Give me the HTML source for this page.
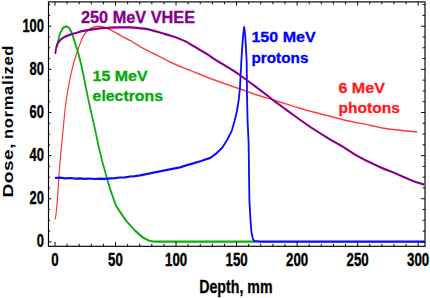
<!DOCTYPE html>
<html><head><meta charset="utf-8"><style>
html,body{margin:0;padding:0;background:#fff;}
svg{display:block;font-family:"Liberation Sans",sans-serif;font-weight:bold;}
.tl{font-size:18.8px;fill:#000;stroke:#000;stroke-width:0.4px;}
.lg{font-size:16.3px;stroke-width:0.3px;}
</style></head><body>
<svg width="430" height="298" viewBox="0 0 430 298">
<rect width="430" height="298" fill="#fff"/>
<g transform="scale(0.8 1)" fill="none" stroke-linejoin="round">
<path d="M69.00,219.30C69.27,217.78 70.02,215.07 70.62,210.20C71.23,205.33 72.12,195.80 72.62,190.10C73.12,184.40 73.12,181.65 73.62,176.00C74.12,170.35 74.88,162.85 75.62,156.20C76.38,149.55 77.31,142.80 78.12,136.10C78.94,129.40 79.83,121.30 80.50,116.00C81.17,110.70 81.48,108.27 82.12,104.30C82.77,100.33 83.46,96.57 84.38,92.20C85.29,87.83 86.50,82.47 87.62,78.10C88.75,73.73 90.00,69.52 91.12,66.00C92.25,62.48 93.40,59.57 94.38,57.00C95.35,54.43 96.00,52.93 97.00,50.60C98.00,48.27 99.08,45.55 100.37,43.00C101.67,40.45 103.06,37.50 104.75,35.30C106.44,33.10 108.52,31.13 110.50,29.80C112.48,28.47 114.58,27.88 116.62,27.30C118.67,26.72 120.69,26.35 122.75,26.30C124.81,26.25 126.94,26.60 129.00,27.00C131.06,27.40 132.79,27.88 135.12,28.70C137.46,29.52 140.21,30.67 143.00,31.90C145.79,33.13 148.62,34.68 151.88,36.10C155.12,37.52 159.69,39.18 162.50,40.40C165.31,41.62 165.81,41.98 168.75,43.40C171.69,44.82 175.29,46.82 180.12,48.90C184.96,50.98 192.33,53.72 197.75,55.90C203.17,58.08 207.04,59.92 212.62,62.00C218.21,64.08 225.21,66.40 231.25,68.40C237.29,70.40 243.87,72.40 248.87,74.00C253.87,75.60 252.73,75.50 261.25,78.00C269.77,80.50 290.60,86.35 300.00,89.00C309.40,91.65 310.88,92.13 317.62,93.90C324.38,95.67 334.62,98.13 340.50,99.60C346.37,101.07 347.12,101.25 352.88,102.70C358.62,104.15 368.56,106.75 375.00,108.30C381.44,109.85 385.81,110.78 391.50,112.00C397.19,113.22 402.50,114.23 409.12,115.60C415.75,116.97 422.35,118.60 431.25,120.20C440.15,121.80 454.35,123.85 462.50,125.20C470.65,126.55 474.25,127.48 480.12,128.30C486.00,129.12 490.85,129.48 497.75,130.10C504.65,130.72 517.54,131.68 521.50,132.00" stroke="#ff3a3a" stroke-width="1.5"/>
<polyline points="70.37,47.50 72.25,42.20 75.12,33.10 78.88,27.80 82.62,26.30 86.37,27.80 89.00,31.50 91.12,36.00 93.87,43.00 97.00,50.60 99.50,58.20 101.88,66.00 104.00,74.00 107.75,89.00 109.88,97.50 116.12,120.00 119.00,130.00 123.25,146.20 128.00,162.00 132.88,176.00 138.00,190.00 145.00,205.80 156.88,220.00 168.62,230.50 178.50,237.50 185.75,240.50 191.25,241.50 197.50,241.70 212.50,241.70 318.75,241.70" stroke="#10ac10" stroke-width="2.25"/>
<polyline points="68.75,178.00 75.00,177.70 81.25,178.40 87.50,178.00 93.75,178.70 100.00,178.30 106.25,178.90 112.50,178.50 118.75,179.00 125.00,178.60 131.25,178.80 137.50,178.30 143.75,178.10 150.00,177.50 156.25,177.30 162.50,176.50 168.75,176.10 175.00,175.30 187.50,173.40 204.38,170.60 225.00,167.30 233.75,165.20 242.62,163.10 251.37,161.00 262.88,157.90 270.75,153.20 277.88,147.60 284.00,139.90 287.38,134.50 289.62,131.00 293.12,121.10 296.12,111.30 298.37,100.00 299.88,88.80 301.62,62.00 302.75,48.20 304.00,34.10 305.19,27.20 306.38,34.10 307.50,48.20 308.37,62.00 308.75,95.00 309.50,121.10 310.75,142.00 311.75,200.00 312.88,216.80 314.25,231.90 316.00,238.60 318.12,241.20 325.00,241.70 530.62,241.70" stroke="#0a0aff" stroke-width="2.25"/>
<path d="M69.12,54.00C69.33,52.92 69.69,49.47 70.37,47.50C71.06,45.53 71.83,43.83 73.25,42.20C74.67,40.57 76.35,39.00 78.88,37.70C81.40,36.40 85.90,35.13 88.38,34.40C90.85,33.67 91.40,33.83 93.75,33.30C96.10,32.77 99.56,31.78 102.50,31.20C105.44,30.62 108.44,30.20 111.37,29.80C114.31,29.40 117.19,29.08 120.12,28.80C123.06,28.52 126.06,28.28 129.00,28.10C131.94,27.92 134.81,27.82 137.75,27.70C140.69,27.58 143.69,27.45 146.62,27.40C149.56,27.35 152.73,27.40 155.38,27.40C158.02,27.40 159.85,27.33 162.50,27.40C165.15,27.47 168.31,27.58 171.25,27.80C174.19,28.02 177.19,28.32 180.12,28.70C183.06,29.08 185.94,29.55 188.87,30.10C191.81,30.65 194.81,31.33 197.75,32.00C200.69,32.67 203.56,33.40 206.50,34.10C209.44,34.80 212.44,35.43 215.38,36.20C218.31,36.97 221.21,37.77 224.12,38.70C227.04,39.63 230.23,40.72 232.88,41.80C235.52,42.88 237.33,43.93 240.00,45.20C242.67,46.47 245.94,48.00 248.87,49.40C251.81,50.80 254.69,52.12 257.62,53.60C260.56,55.08 263.56,56.77 266.50,58.30C269.44,59.83 272.31,61.35 275.25,62.80C278.19,64.25 281.19,65.60 284.12,67.00C287.06,68.40 289.96,69.68 292.88,71.20C295.79,72.72 297.50,73.72 301.62,76.10C305.75,78.48 312.02,82.17 317.62,85.50C323.23,88.83 331.44,93.75 335.25,96.10C339.06,98.45 337.56,97.80 340.50,99.60C343.44,101.40 349.35,104.83 352.88,106.90C356.40,108.97 358.12,109.97 361.62,112.00C365.12,114.03 368.90,116.28 373.88,119.10C378.85,121.92 385.62,125.80 391.50,128.90C397.37,132.00 403.27,134.88 409.12,137.70C414.98,140.52 421.04,143.08 426.62,145.80C432.21,148.52 437.02,151.38 442.62,154.00C448.23,156.62 454.37,159.15 460.25,161.50C466.12,163.85 472.02,166.07 477.88,168.10C483.73,170.13 489.12,171.60 495.38,173.70C501.62,175.80 509.56,178.90 515.38,180.70C521.19,182.50 527.77,183.87 530.25,184.50" stroke="#84008c" stroke-width="2.2"/>
</g>
<rect x="48.5" y="1.9" width="376.5" height="244.4" fill="none" stroke="#000" stroke-width="1.15"/>
<path d="M55.00,246.3v-4.3M55.00,1.9v3.7M67.11,246.3v-2.5M67.11,1.9v2.4M79.21,246.3v-2.5M79.21,1.9v2.4M91.31,246.3v-2.5M91.31,1.9v2.4M103.42,246.3v-2.5M103.42,1.9v2.4M115.53,246.3v-4.3M115.53,1.9v3.7M127.63,246.3v-2.5M127.63,1.9v2.4M139.74,246.3v-2.5M139.74,1.9v2.4M151.84,246.3v-2.5M151.84,1.9v2.4M163.94,246.3v-2.5M163.94,1.9v2.4M176.05,246.3v-4.3M176.05,1.9v3.7M188.16,246.3v-2.5M188.16,1.9v2.4M200.26,246.3v-2.5M200.26,1.9v2.4M212.36,246.3v-2.5M212.36,1.9v2.4M224.47,246.3v-2.5M224.47,1.9v2.4M236.57,246.3v-4.3M236.57,1.9v3.7M248.68,246.3v-2.5M248.68,1.9v2.4M260.78,246.3v-2.5M260.78,1.9v2.4M272.89,246.3v-2.5M272.89,1.9v2.4M285.00,246.3v-2.5M285.00,1.9v2.4M297.10,246.3v-4.3M297.10,1.9v3.7M309.20,246.3v-2.5M309.20,1.9v2.4M321.31,246.3v-2.5M321.31,1.9v2.4M333.41,246.3v-2.5M333.41,1.9v2.4M345.52,246.3v-2.5M345.52,1.9v2.4M357.62,246.3v-4.3M357.62,1.9v3.7M369.73,246.3v-2.5M369.73,1.9v2.4M381.83,246.3v-2.5M381.83,1.9v2.4M393.94,246.3v-2.5M393.94,1.9v2.4M406.04,246.3v-2.5M406.04,1.9v2.4M418.15,246.3v-4.3M418.15,1.9v3.7M48.5,241.90h3.0M425.0,241.90h-4.0M48.5,231.12h1.7M425.0,231.12h-2.5M48.5,220.33h1.7M425.0,220.33h-2.5M48.5,209.55h1.7M425.0,209.55h-2.5M48.5,198.76h3.0M425.0,198.76h-4.0M48.5,187.98h1.7M425.0,187.98h-2.5M48.5,177.19h1.7M425.0,177.19h-2.5M48.5,166.41h1.7M425.0,166.41h-2.5M48.5,155.62h3.0M425.0,155.62h-4.0M48.5,144.84h1.7M425.0,144.84h-2.5M48.5,134.05h1.7M425.0,134.05h-2.5M48.5,123.27h1.7M425.0,123.27h-2.5M48.5,112.48h3.0M425.0,112.48h-4.0M48.5,101.69h1.7M425.0,101.69h-2.5M48.5,90.91h1.7M425.0,90.91h-2.5M48.5,80.12h1.7M425.0,80.12h-2.5M48.5,69.34h3.0M425.0,69.34h-4.0M48.5,58.56h1.7M425.0,58.56h-2.5M48.5,47.77h1.7M425.0,47.77h-2.5M48.5,36.99h1.7M425.0,36.99h-2.5M48.5,26.20h3.0M425.0,26.20h-4.0M48.5,15.41h1.7M425.0,15.41h-2.5M48.5,4.63h1.7M425.0,4.63h-2.5" stroke="#000" stroke-width="0.95" fill="none"/>
<text x="55.0" y="265.9" text-anchor="middle" class="tl" transform="translate(55.0 0) scale(0.705 1) translate(-55.0 0)">0</text><text x="115.5" y="265.9" text-anchor="middle" class="tl" transform="translate(115.5 0) scale(0.705 1) translate(-115.5 0)">50</text><text x="176.1" y="265.9" text-anchor="middle" class="tl" transform="translate(176.1 0) scale(0.705 1) translate(-176.1 0)">100</text><text x="236.6" y="265.9" text-anchor="middle" class="tl" transform="translate(236.6 0) scale(0.705 1) translate(-236.6 0)">150</text><text x="297.1" y="265.9" text-anchor="middle" class="tl" transform="translate(297.1 0) scale(0.705 1) translate(-297.1 0)">200</text><text x="357.6" y="265.9" text-anchor="middle" class="tl" transform="translate(357.6 0) scale(0.705 1) translate(-357.6 0)">250</text><text x="418.1" y="265.9" text-anchor="middle" class="tl" transform="translate(418.1 0) scale(0.705 1) translate(-418.1 0)">300</text>
<text x="43.9" y="247.4" text-anchor="end" class="tl" transform="translate(43.9 0) scale(0.685 1) translate(-43.9 0)">0</text><text x="43.9" y="204.3" text-anchor="end" class="tl" transform="translate(43.9 0) scale(0.685 1) translate(-43.9 0)">20</text><text x="43.9" y="161.1" text-anchor="end" class="tl" transform="translate(43.9 0) scale(0.685 1) translate(-43.9 0)">40</text><text x="43.9" y="118.0" text-anchor="end" class="tl" transform="translate(43.9 0) scale(0.685 1) translate(-43.9 0)">60</text><text x="43.9" y="74.8" text-anchor="end" class="tl" transform="translate(43.9 0) scale(0.685 1) translate(-43.9 0)">80</text><text x="43.9" y="31.7" text-anchor="end" class="tl" transform="translate(43.9 0) scale(0.685 1) translate(-43.9 0)">100</text>
<text class="lg" fill="#84008c" stroke="#84008c" transform="translate(81.0 23.3) scale(1.0 1.0)">250 MeV VHEE</text><text class="lg" fill="#00aa00" stroke="#00aa00" transform="translate(92.6 80.8) scale(0.98 0.92)">15 MeV</text><text class="lg" fill="#00aa00" stroke="#00aa00" transform="translate(92.6 101.4) scale(0.972 0.92)">electrons</text><text class="lg" fill="#0000ff" stroke="#0000ff" transform="translate(251.4 42.2) scale(0.987 0.9)">150 MeV</text><text class="lg" fill="#0000ff" stroke="#0000ff" transform="translate(251.4 62.7) scale(0.94 0.93)">protons</text><text class="lg" fill="#ff1a1a" stroke="#ff1a1a" transform="translate(338.4 92.9) scale(0.99 0.93)">6 MeV</text><text class="lg" fill="#ff1a1a" stroke="#ff1a1a" transform="translate(338.6 112.5) scale(0.953 0.93)">photons</text>
<text id="xt" x="199.2" y="293.5" font-size="18.2" fill="#000" stroke="#000" stroke-width="0.3" transform="translate(199.2 0) scale(0.78 1) translate(-199.2 0)">Depth, mm</text>
<text id="yt" font-size="15" fill="#000" letter-spacing="0.4" transform="translate(13.3 197.4) rotate(-90) scale(1.27 1)">Dose,</text>
<text id="yt2" font-size="15" fill="#000" letter-spacing="0.6" transform="translate(13.3 139.0) rotate(-90) scale(1.105 1)">normalized</text>
</svg>
</body></html>
